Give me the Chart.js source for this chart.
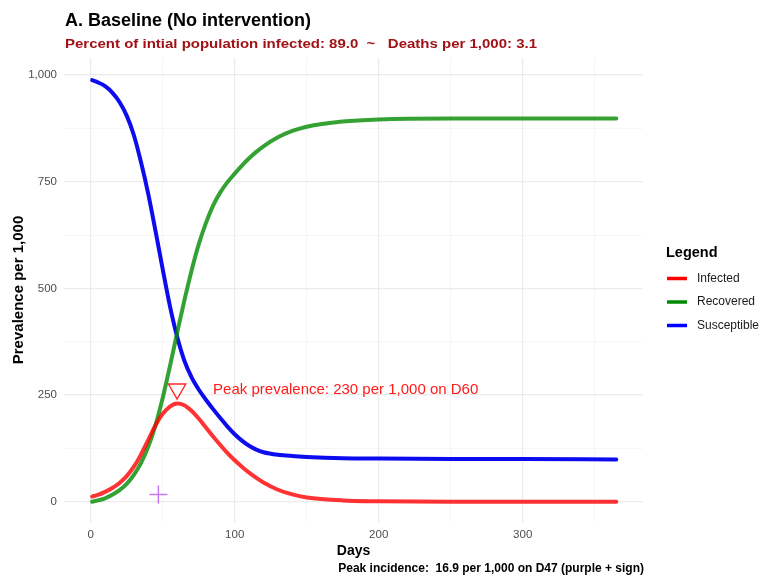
<!DOCTYPE html>
<html>
<head>
<meta charset="utf-8">
<script src="https://cdn.jsdelivr.net/npm/chart.js@4.4.1/dist/chart.umd.min.js"></script>
<style>
  html, body { margin: 0; padding: 0; background: #fff; }
</style>
</head>
<body>
<canvas id="sir-chart" width="759" height="578"></canvas>
<script>
// values (per 1,000)
const days        = [1, 5, 10, 15, 20, 25, 30, 35, 40, 45, 50, 55, 60, 65, 70, 75, 80, 85, 90, 95, 100, 105, 110, 115, 120, 130, 140, 150, 175, 200, 250, 300, 365];
const infected    = [12, 16, 23, 32, 44, 60, 82, 111, 145, 179, 206, 223, 230, 226, 213, 195, 174, 153, 133, 114, 97, 82, 68, 56, 45, 28, 17, 10, 3, 1, 0, 0, 0];
const recovered   = [0, 3, 8, 16, 27, 42, 63, 91, 129, 179, 243, 317, 395, 471, 541, 603, 653, 694, 725, 749, 769, 788, 805, 820, 833, 854, 869, 879, 891, 896, 898, 898, 898];
const susceptible = [988, 983, 974, 959, 937, 905, 859, 795, 721, 635, 545, 459, 387, 331, 292, 263, 239, 217, 196, 176, 158, 143, 131, 122, 116, 110, 107, 105, 102, 101, 100, 100, 99];

const seriesNames = ['Infected', 'Recovered', 'Susceptible'];
const xMajorTicks = [0, 100, 200, 300];
const xGridTicks  = [0, 50, 100, 150, 200, 250, 300, 350];
const yMajorTicks = [0, 250, 500, 750, 1000];
const yGridTicks  = [0, 125, 250, 375, 500, 625, 750, 875, 1000];

const peakMarker    = [60, 264];   // day, value of the open triangle
const peakIncidence = [47, 16.9];  // day, value of the purple plus
const peakLabelAt   = [85, 262];

const titleText    = 'A. Baseline (No intervention)';
const subtitleText = 'Percent of intial population infected: 89.0  ~   Deaths per 1,000: 3.1';
const peakText     = 'Peak prevalence: 230 per 1,000 on D60';
const captionText  = 'Peak incidence:  16.9 per 1,000 on D47 (purple + sign)';

function getColor(name, solid) {
    if (name === 'Infected') {
        return solid ? '#ff0000' : 'rgba(255, 0, 0, 0.8)';
    }
    if (name === 'Recovered') {
        return solid ? '#008b00' : 'rgba(0, 139, 0, 0.8)';
    }
    if (name === 'Susceptible') {
        return solid ? '#0000ff' : 'rgb(12, 12, 238)';
    }
}

const FONT = '"Liberation Sans", Arial, sans-serif';
Chart.defaults.font.family = FONT;

const toPoints = values => days.map((d, i) => ({ x: d, y: values[i] }));

// text drawn a bit wider than the font gives, to match the reference
function fillStretched(ctx, text, x, y, width) {
    const w = ctx.measureText(text).width;
    ctx.save();
    ctx.translate(x, y);
    ctx.scale(width / w, 1);
    ctx.fillText(text, 0, 0);
    ctx.restore();
}

const textPlugin = {
    id: 'textPlugin',
    afterDraw(chart) {
        const ctx = chart.ctx;
        const xs = chart.scales.x, ys = chart.scales.y;
        ctx.save();
        ctx.textBaseline = 'middle';
        ctx.textAlign = 'left';

        ctx.fillStyle = '#000';
        ctx.font = 'bold 18px ' + FONT;
        ctx.fillText(titleText, 65, 21);

        ctx.fillStyle = '#a01216';
        ctx.font = 'bold 13.5px ' + FONT;
        fillStretched(ctx, subtitleText, 65, 44, 472);

        ctx.fillStyle = '#ff1a1a';
        ctx.font = '15px ' + FONT;
        ctx.fillText(peakText, xs.getPixelForValue(peakLabelAt[0]), ys.getPixelForValue(peakLabelAt[1]));

        ctx.fillStyle = '#000';
        ctx.font = 'bold 12px ' + FONT;
        ctx.textAlign = 'right';
        ctx.fillText(captionText, 644, 569);

        // legend
        ctx.textAlign = 'left';
        ctx.font = 'bold 14.5px ' + FONT;
        ctx.fillText('Legend', 666, 253);
        ctx.font = '12px ' + FONT;
        seriesNames.forEach((name, i) => {
            const yy = 278.5 + i * 23.5;
            ctx.strokeStyle = getColor(name, true);
            ctx.lineWidth = 3.5;
            ctx.beginPath();
            ctx.moveTo(667, yy);
            ctx.lineTo(687, yy);
            ctx.stroke();
            ctx.fillStyle = '#1a1a1a';
            ctx.fillText(name, 697, yy);
        });
        ctx.restore();
    }
};

const lineSets = [
    { name: 'Infected', values: infected },
    { name: 'Recovered', values: recovered },
    { name: 'Susceptible', values: susceptible }
];

new Chart(document.querySelector('#sir-chart').getContext('2d'), {
    type: 'line',
    data: {
        datasets: [
            ...lineSets.map(s => ({
                label: s.name,
                data: toPoints(s.values),
                borderColor: getColor(s.name),
                backgroundColor: getColor(s.name),
                borderWidth: 4,
                pointRadius: 0,
                cubicInterpolationMode: 'monotone',
                borderCapStyle: 'round'
            })),
            {
                label: 'peak',
                data: [{ x: peakMarker[0], y: peakMarker[1] }],
                showLine: false,
                pointStyle: 'triangle',
                rotation: 180,
                pointRadius: 10,
                borderColor: '#ff2a2a',
                backgroundColor: 'rgba(0,0,0,0)',
                pointBorderWidth: 1.4
            },
            {
                label: 'incidence',
                data: [{ x: peakIncidence[0], y: peakIncidence[1] }],
                showLine: false,
                pointStyle: 'cross',
                pointRadius: 9,
                borderColor: 'rgba(160, 32, 240, 0.6)',
                backgroundColor: 'rgba(160, 32, 240, 0.6)',
                pointBorderWidth: 1.5
            }
        ]
    },
    options: {
        responsive: false,
        devicePixelRatio: 1,
        animation: false,
        layout: { padding: { top: 58, right: 116.4, left: 0, bottom: 0 } },
        plugins: {
            legend: { display: false },
            tooltip: { enabled: false }
        },
        scales: {
            x: {
                type: 'linear',
                min: -18.25,
                max: 383.25,
                afterBuildTicks: axis => { axis.ticks = xGridTicks.map(v => ({ value: v })); },
                afterFit: axis => { axis.height = 56; },
                border: { display: false },
                grid: {
                    drawTicks: false,
                    color: c => xMajorTicks.includes(c.tick.value) ? '#ebebeb' : '#f4f4f4',
                    lineWidth: c => xMajorTicks.includes(c.tick.value) ? 1.2 : 0.8
                },
                ticks: {
                    autoSkip: false,
                    maxRotation: 0,
                    padding: 6,
                    color: '#4d4d4d',
                    font: { size: 11.5 },
                    callback: v => xMajorTicks.includes(v) ? String(v) : ''
                },
                title: {
                    display: true,
                    text: 'Days',
                    color: '#000',
                    font: { size: 14, weight: 'bold' },
                    padding: { top: 0, bottom: 18.6 }
                }
            },
            y: {
                type: 'linear',
                min: -47.6,
                max: 1040,
                afterBuildTicks: axis => { axis.ticks = yGridTicks.map(v => ({ value: v })); },
                afterFit: axis => { axis.width = 64.4; },
                border: { display: false },
                grid: {
                    drawTicks: false,
                    color: c => yMajorTicks.includes(c.tick.value) ? '#ebebeb' : '#f4f4f4',
                    lineWidth: c => yMajorTicks.includes(c.tick.value) ? 1.2 : 0.8
                },
                ticks: {
                    autoSkip: false,
                    padding: 7.4,
                    color: '#4d4d4d',
                    font: { size: 11.5 },
                    callback: v => yMajorTicks.includes(v) ? v.toLocaleString('en-US') : ''
                },
                title: {
                    display: true,
                    text: 'Prevalence per 1,000',
                    color: '#000',
                    font: { size: 15, weight: 'bold' },
                    padding: { top: 10, bottom: 0 }
                }
            }
        }
    },
    plugins: [textPlugin]
});
</script>
</body>
</html>
